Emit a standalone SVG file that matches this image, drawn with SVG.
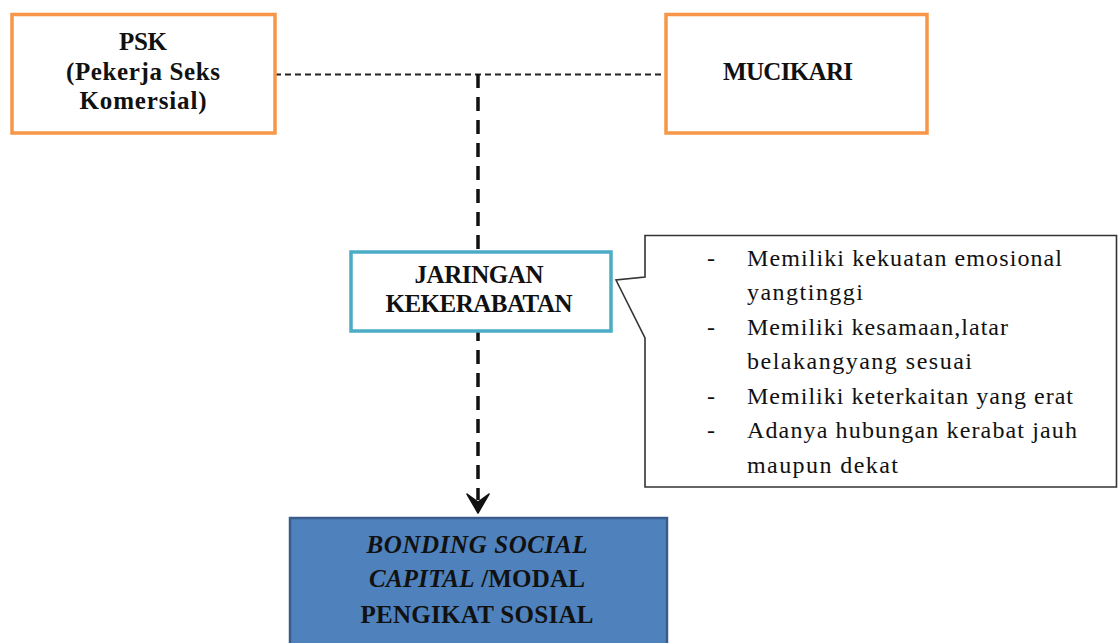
<svg xmlns="http://www.w3.org/2000/svg" width="1118" height="643" viewBox="0 0 1118 643">
<style>
.t{font-family:"Liberation Serif","Times New Roman",serif;font-weight:bold;font-size:25px;fill:#111;text-anchor:middle}
.b{font-family:"Liberation Serif","Times New Roman",serif;font-size:24px;fill:#111}
.orange{fill:#fff;stroke:#F79646;stroke-width:3.5}
</style>
<rect width="1118" height="643" fill="#fff"/>
<g id="connectors">
<line x1="275" y1="74.5" x2="665" y2="74.5" stroke="#222" stroke-width="1.8" stroke-dasharray="6 4"/>
<line x1="478" y1="74" x2="478" y2="500" stroke="#111" stroke-width="3.5" stroke-dasharray="14 9"/>
<path d="M467,494 L478,513 L489,494 L478,502 Z" fill="#111" stroke="#111" stroke-width="1.5" stroke-linejoin="round"/>
</g>
<g id="psk">
<rect class="orange" x="12" y="14.5" width="263" height="118.5"/>
<text class="t" x="143" y="50" textLength="48">PSK</text>
<text class="t" x="143" y="80" textLength="154">(Pekerja Seks</text>
<text class="t" x="143" y="109" textLength="127">Komersial)</text>
</g>
<g id="mucikari">
<rect class="orange" x="666" y="14.5" width="261" height="118.5"/>
<text class="t" x="788" y="80" textLength="130">MUCIKARI</text>
</g>
<g id="jaringan">
<rect x="351" y="252" width="260" height="79" fill="#fff" stroke="#4BACC6" stroke-width="3.5"/>
<text class="t" x="479" y="283" textLength="129">JARINGAN</text>
<text class="t" x="479" y="312" textLength="187">KEKERABATAN</text>
</g>
<g id="callout">
<path d="M645,235.5 H1116.5 V487 H645 V338 L616,280 L645,277 Z" fill="#fff" stroke="#333" stroke-width="1.6" stroke-linejoin="miter"/>
<text class="b" x="707" y="266">-</text>
<text class="b" x="747" y="266" textLength="315" lengthAdjust="spacing">Memiliki kekuatan emosional</text>
<text class="b" x="747" y="300" textLength="116" lengthAdjust="spacing">yangtinggi</text>
<text class="b" x="707" y="335">-</text>
<text class="b" x="747" y="335" textLength="261" lengthAdjust="spacing">Memiliki kesamaan,latar</text>
<text class="b" x="747" y="369" textLength="225" lengthAdjust="spacing">belakangyang sesuai</text>
<text class="b" x="707" y="404">-</text>
<text class="b" x="747" y="404" textLength="326" lengthAdjust="spacing">Memiliki keterkaitan yang erat</text>
<text class="b" x="707" y="438">-</text>
<text class="b" x="747" y="438" textLength="330" lengthAdjust="spacing">Adanya hubungan kerabat jauh</text>
<text class="b" x="747" y="473" textLength="151" lengthAdjust="spacing">maupun dekat</text>
</g>
<g id="bonding">
<rect x="290" y="518" width="377" height="140" fill="#4F81BD" stroke="#385D8A" stroke-width="2.5"/>
<text class="t" x="477" y="553" textLength="221" font-style="italic">BONDING SOCIAL</text>
<text class="t" x="477" y="587" textLength="216"><tspan font-style="italic">CAPITAL</tspan> /MODAL</text>
<text class="t" x="477" y="623" textLength="233">PENGIKAT SOSIAL</text>
</g>
</svg>
